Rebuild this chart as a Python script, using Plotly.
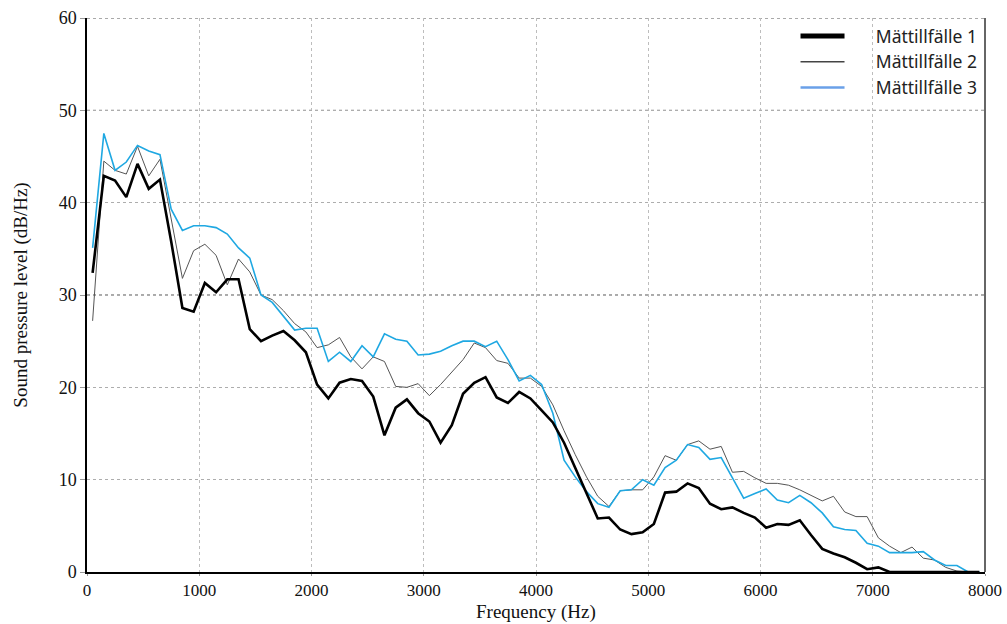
import plotly.graph_objects as go

freq = [50, 150, 250, 350, 450, 550, 650, 750, 850, 950,
        1050, 1150, 1250, 1350, 1450, 1550, 1650, 1750, 1850, 1950,
        2050, 2150, 2250, 2350, 2450, 2550, 2650, 2750, 2850, 2950,
        3050, 3150, 3250, 3350, 3450, 3550, 3650, 3750, 3850, 3950,
        4050, 4150, 4250, 4350, 4450, 4550, 4650, 4750, 4850, 4950,
        5050, 5150, 5250, 5350, 5450, 5550, 5650, 5750, 5850, 5950,
        6050, 6150, 6250, 6350, 6450, 6550, 6650, 6750, 6850, 6950,
        7050, 7150, 7250, 7350, 7450, 7550, 7650, 7750, 7850, 7950]

case1 = [32.4, 42.9, 42.4, 40.6, 44.2, 41.5, 42.5, 35.8, 28.6, 28.2,
         31.3, 30.3, 31.7, 31.7, 26.3, 25.0, 25.6, 26.1, 25.1, 23.8,
         20.3, 18.8, 20.5, 20.9, 20.7, 19.0, 14.8, 17.8, 18.7, 17.2,
         16.3, 14.0, 15.9, 19.3, 20.5, 21.1, 18.9, 18.3, 19.5, 18.8,
         17.5, 16.2, 14.0, 11.2, 8.5, 5.8, 5.9, 4.6, 4.1, 4.3,
         5.2, 8.6, 8.7, 9.6, 9.1, 7.4, 6.8, 7.0, 6.4, 5.9,
         4.8, 5.2, 5.1, 5.6, 4.0, 2.5, 2.0, 1.6, 1.0, 0.3,
         0.5, 0.0, 0.0, 0.0, 0.0, 0.0, 0.0, 0.0, 0.0, 0.0]

case2 = [27.2, 44.5, 43.5, 43.1, 46.1, 42.9, 44.7, 38.2, 31.8, 34.8,
         35.5, 34.3, 31.1, 33.9, 32.5, 30.0, 29.5, 28.3, 26.9, 26.0,
         24.3, 24.6, 25.4, 23.3, 22.0, 23.3, 22.8, 20.1, 20.0, 20.4,
         19.1, 20.3, 21.6, 23.0, 24.8, 24.3, 22.9, 22.6, 21.0, 21.0,
         20.1, 18.1, 15.3, 12.7, 10.3, 8.2, 7.1, 8.8, 8.9, 8.9,
         10.3, 12.6, 12.1, 13.8, 14.2, 13.3, 13.6, 10.8, 10.9, 10.2,
         9.6, 9.6, 9.4, 8.9, 8.3, 7.7, 8.2, 6.5, 6.0, 6.0,
         3.7, 2.8, 2.1, 2.7, 1.5, 1.3, 0.5, 0.1, 0.0, 0.0]

case3 = [35.1, 47.5, 43.5, 44.4, 46.2, 45.6, 45.2, 39.3, 37.0, 37.5,
         37.5, 37.3, 36.6, 35.1, 34.0, 30.0, 29.2, 27.7, 26.2, 26.4,
         26.4, 22.8, 23.8, 22.8, 24.5, 23.3, 25.8, 25.2, 25.0, 23.5,
         23.6, 23.9, 24.5, 25.0, 25.0, 24.4, 25.0, 23.0, 20.7, 21.3,
         20.3, 17.2, 12.1, 10.3, 8.7, 7.4, 7.0, 8.8, 8.9, 10.0,
         9.4, 11.3, 12.1, 13.8, 13.5, 12.2, 12.4, 10.2, 8.0, 8.5,
         9.0, 7.8, 7.5, 8.3, 7.5, 6.4, 4.9, 4.6, 4.5, 3.1,
         2.8, 2.1, 2.1, 2.1, 2.2, 1.3, 0.7, 0.7, 0.0, 0.0]

names = ["Mättillfälle 1", "Mättillfälle 2", "Mättillfälle 3"]
x_ticks = [0, 1000, 2000, 3000, 4000, 5000, 6000, 7000, 8000]
y_ticks = [0, 10, 20, 30, 40, 50, 60]

line_styles = [dict(color="#000000", width=2.6),
               dict(color="#555555", width=1.0),
               dict(color="#1fa8e2", width=1.6)]
legend_styles = [dict(color="#000000", width=5),
                 dict(color="#444444", width=1.5),
                 dict(color="#6aa0e8", width=2.5)]

fig = go.Figure()
# data traces: draw in order 2, 3, 1 so black is on top
for idx in [1, 2, 0]:
    series = [case1, case2, case3][idx]
    fig.add_trace(go.Scatter(x=freq, y=series, mode="lines", line=line_styles[idx],
                             showlegend=False, hoverinfo="x+y", name=names[idx]))
# legend entries
pad = "\u2002\u2002\u2002"
for idx in range(3):
    fig.add_trace(go.Scatter(x=[None], y=[None], mode="lines", line=legend_styles[idx],
                             name=pad + names[idx], showlegend=True))

serif = "Liberation Serif"
fig.update_layout(
    width=1007, height=624,
    margin=dict(l=87, r=22, t=18, b=52),
    paper_bgcolor="white", plot_bgcolor="white",
    legend=dict(x=0.789, y=1.0, xanchor="left", yanchor="top",
                font=dict(family="Noto Sans", size=17.5, color="#222222"),
                bgcolor="rgba(0,0,0,0)", tracegroupgap=0, itemwidth=44),
    xaxis=dict(range=[0, 8000], tickvals=x_ticks, ticktext=[str(v) for v in x_ticks],
               showgrid=True, gridcolor="#bdbdbd", griddash="dot", gridwidth=1,
               showline=True, linecolor="#000000", linewidth=1.5,
               ticks="outside", ticklen=2, tickcolor="#999999",
               tickfont=dict(family=serif, size=17, color="#111111"),
               zeroline=False, automargin=False),
    yaxis=dict(range=[0, 60], tickvals=y_ticks,
               showgrid=True, gridcolor="#adadad", griddash="dot", gridwidth=1,
               showline=True, linecolor="#000000", linewidth=1.5,
               ticks="outside", ticklen=5, tickcolor="#999999",
               tickfont=dict(family=serif, size=18, color="#111111"),
               title=dict(text="Sound pressure level (dB/Hz)",
                          font=dict(family=serif, size=19, color="#111111"), standoff=26),
               zeroline=False, automargin=False),
)
fig.add_annotation(text="Frequency (Hz)", xref="paper", yref="paper", x=0.5, y=-0.073,
                   xanchor="center", yanchor="middle", showarrow=False,
                   font=dict(family=serif, size=19, color="#111111"))
# darker reference gridlines and right border
for yv in [30, 50, 60]:
    fig.add_shape(type="line", xref="paper", yref="y", x0=0, x1=1, y0=yv, y1=yv,
                  line=dict(color="#555555", width=1, dash="dot"), layer="below")
fig.add_shape(type="line", xref="paper", yref="paper", x0=1, x1=1, y0=0, y1=1,
              line=dict(color="#333333", width=1.5))

fig.write_html("out.html")
